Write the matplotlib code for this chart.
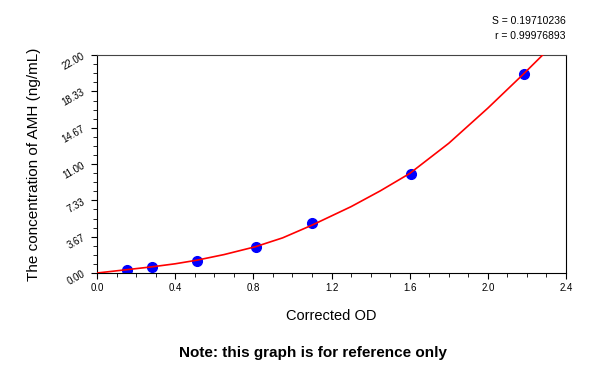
import numpy as np
import matplotlib.pyplot as plt
from matplotlib.ticker import MultipleLocator, FormatStrFormatter

plt.rcParams['font.family'] = ['Liberation Sans', 'DejaVu Sans']

# standards (corrected OD vs concentration)
od = [0.154, 0.281, 0.512, 0.814, 1.100, 1.607, 2.185]
conc = [0.30, 0.60, 1.21, 2.62, 5.05, 9.99, 20.08]

# fitted curve
fit_x = [0.0, 0.15, 0.28, 0.40, 0.51, 0.65, 0.81, 0.95, 1.10, 1.30, 1.45, 1.60, 1.80, 2.00, 2.18, 2.29]
fit_y = [0.0, 0.33, 0.62, 0.93, 1.29, 1.86, 2.65, 3.55, 4.83, 6.70, 8.30, 10.05, 13.10, 16.65, 20.05, 22.2]

y_ticks = [0.0, 3.67, 7.33, 11.0, 14.67, 18.33, 22.0]

fig = plt.figure(figsize=(6, 3.75), dpi=100)
ax = fig.add_axes([0.1617, 0.272, 0.7817, 0.581])

ax.plot(fit_x, fit_y, color='red', lw=1.2, zorder=3)
ax.plot(od, conc, 'o', color='blue', ms=7, zorder=2)

ax.set_xlim(0, 2.4)
ax.set_ylim(0, 22)
ax.xaxis.set_major_locator(MultipleLocator(0.4))
ax.xaxis.set_minor_locator(MultipleLocator(0.1))
ax.xaxis.set_major_formatter(FormatStrFormatter('%.1f'))
ax.set_yticks(y_ticks)
ax.set_yticklabels(['%.2f' % v for v in y_ticks], rotation=30)
ax.yaxis.set_minor_locator(MultipleLocator(22 / 24))
ax.tick_params(which='major', direction='out', length=4, labelsize=7)
ax.tick_params(which='minor', direction='out', length=3)
ax.spines['top'].set_color('#444444')

ax.set_xlabel('Corrected OD', fontsize=10.5, labelpad=11)
ax.set_ylabel('The concentration of AMH (ng/mL)', fontsize=11, labelpad=14)

fig.text(0.943, 0.945, 'S = 0.19710236', ha='right', va='center', fontsize=7.5)
fig.text(0.943, 0.905, 'r = 0.99976893', ha='right', va='center', fontsize=7.5)
fig.text(0.522, 0.058, 'Note: this graph is for reference only', ha='center', va='center',
         fontsize=11, fontweight='bold')

fig.savefig('out.png')
